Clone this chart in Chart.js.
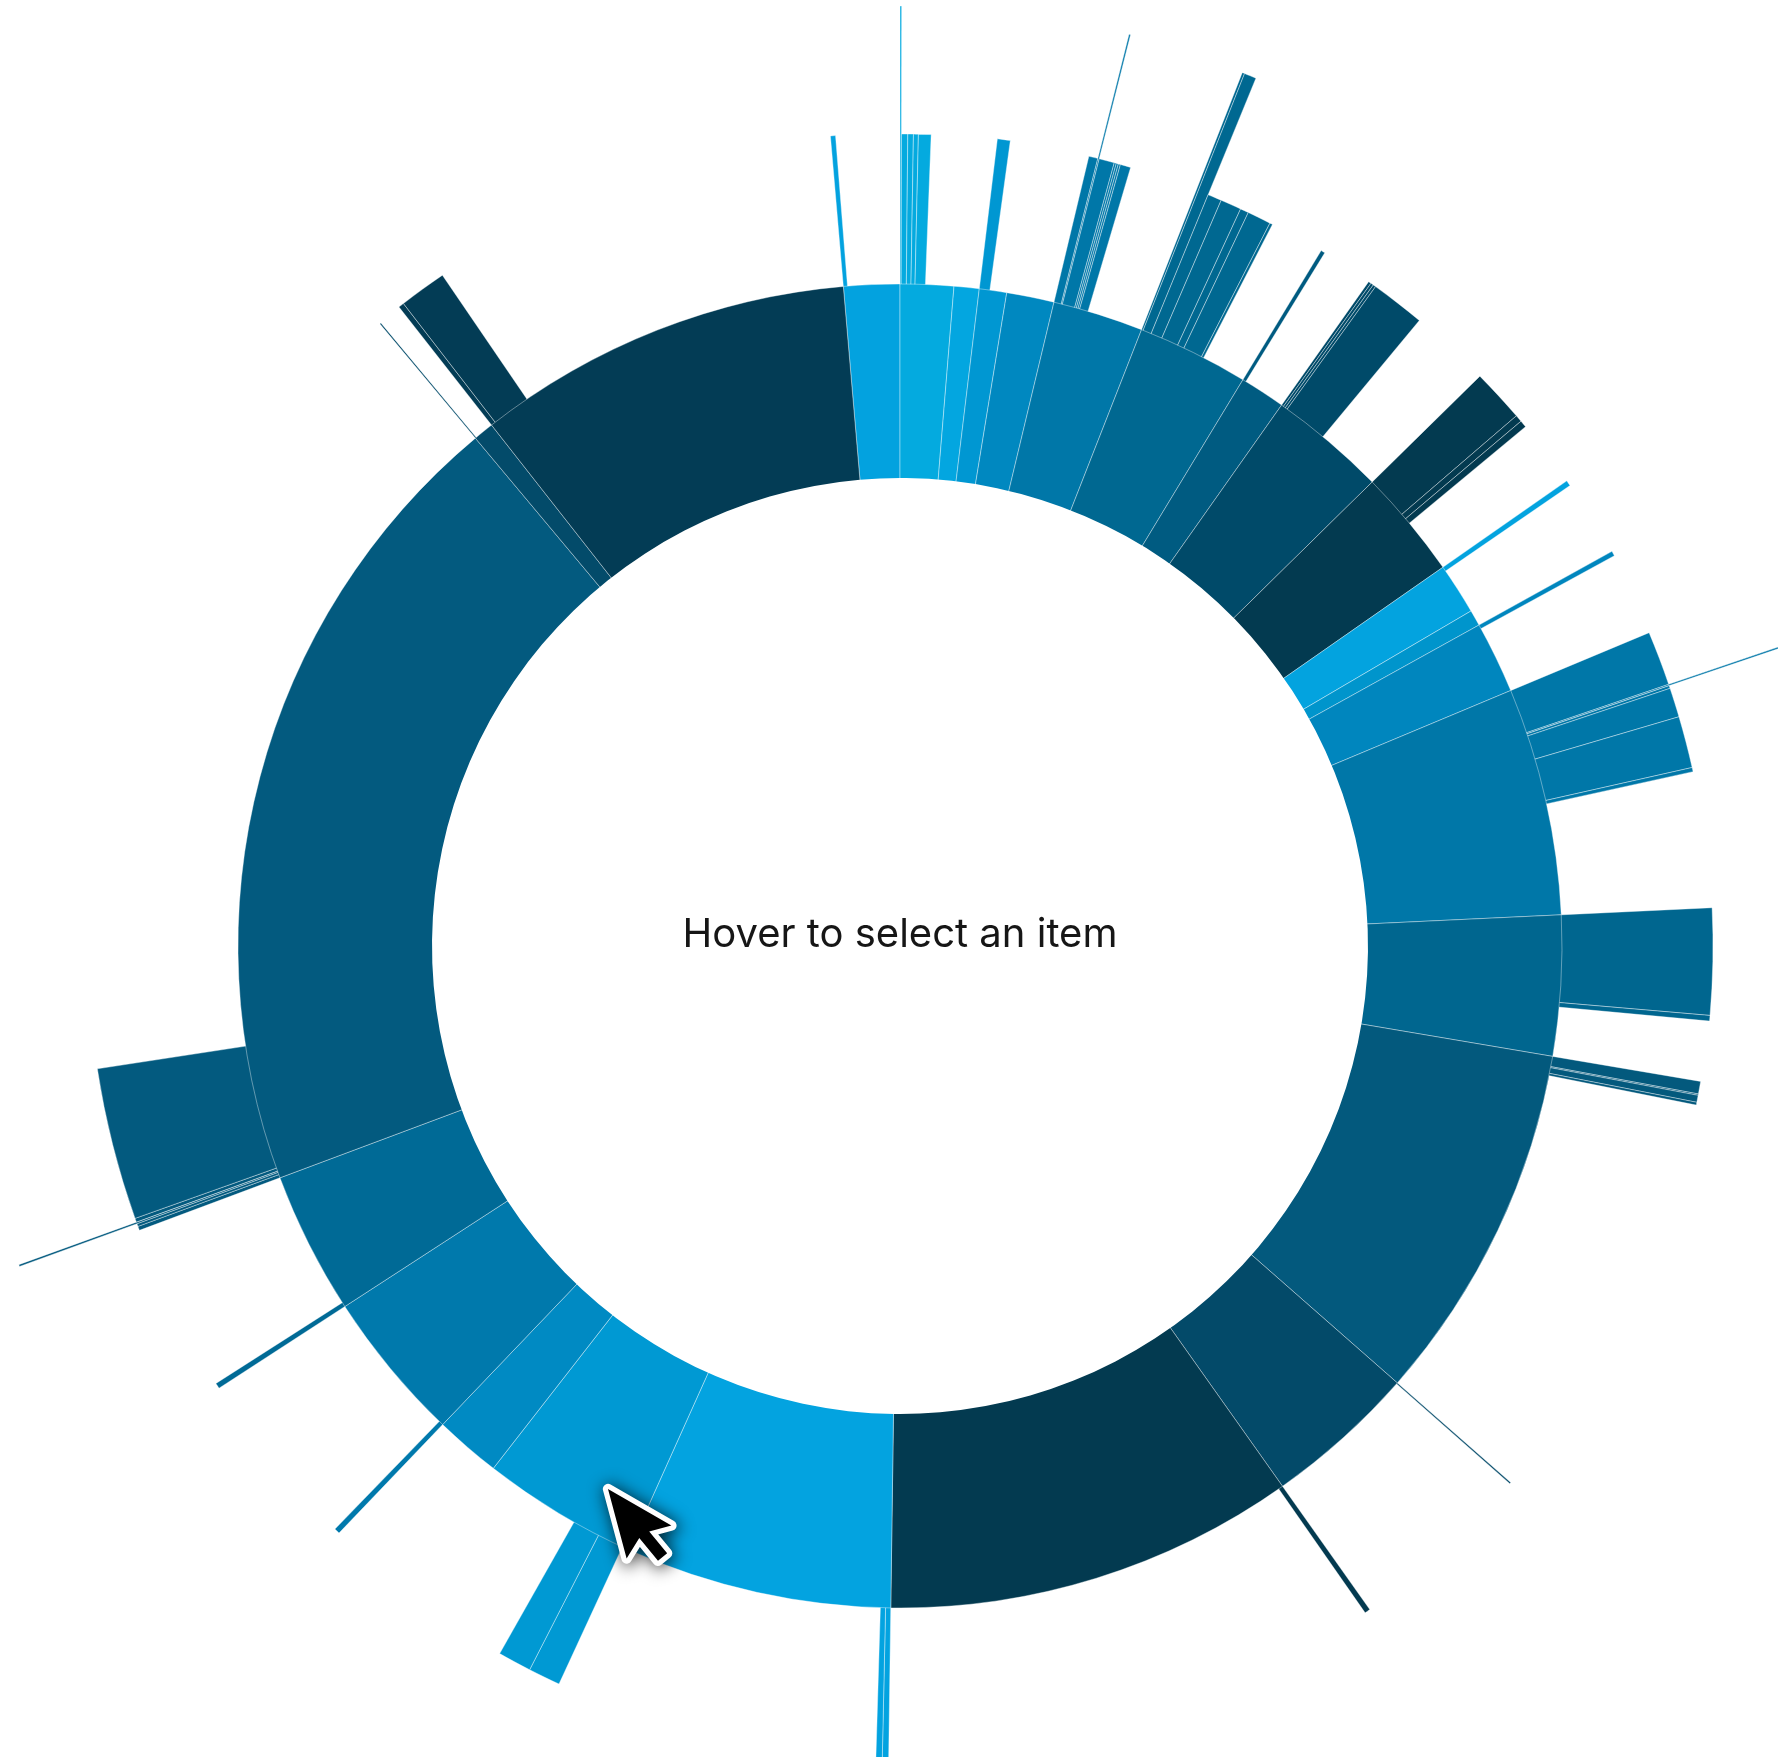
<!DOCTYPE html>
<html>
<head>
<meta charset="utf-8">
<script src="https://cdn.jsdelivr.net/npm/chart.js@4/dist/chart.umd.min.js"></script>
<style>
html,body{margin:0;padding:0;background:#fff;overflow:hidden;}
#wrap{position:relative;width:1778px;height:1757px;}
#chart{position:absolute;left:0;top:0;}
#centerLabel{position:absolute;left:400px;width:1000px;top:909px;text-align:center;font-family:Inter,"Noto Sans",sans-serif;font-size:40px;line-height:48px;color:#161616;white-space:nowrap;}
#cursor{position:absolute;left:0;top:0;pointer-events:none;}
</style>
</head>
<body>
<div id="wrap">
<canvas id="chart" width="1778" height="1757"></canvas>
<div id="centerLabel">Hover to select an item</div>
<svg id="cursor" width="1778" height="1757">
  <defs><filter id="sh" x="-50%" y="-50%" width="200%" height="200%"><feGaussianBlur stdDeviation="1.8"/></filter></defs>
  <g transform="translate(608,1489) rotate(-15) scale(4.5)">
    <path d="M0,0 L0,16 L3.9,12.3 L6.6,18.3 L9.0,17.2 L6.4,11.5 L11.5,11.5 Z" fill="rgba(0,0,0,0.6)" stroke="rgba(0,0,0,0.6)" stroke-width="3" stroke-linejoin="round" filter="url(#sh)" transform="translate(0.3,0.5)"/>
    <path d="M0,0 L0,16 L3.9,12.3 L6.6,18.3 L9.0,17.2 L6.4,11.5 L11.5,11.5 Z" fill="#000" stroke="#fff" stroke-width="2.3" stroke-linejoin="round" paint-order="stroke"/>
  </g>
</svg>
</div>
<script>
// ---------- data ----------
const startAngle = -4.91;          // degrees clockwise from 12 o'clock where the first item begins
const holeReach = 468;             // radial value of the inner hole
const ringReach = 662;             // radial value of the main ring
const scaleMax = 811;              // radial scale maximum

const ringItems = ['A','B','C','D','E','F','G','H','I','J','K','L','M','N','O','P','Q','R','S','T','U','V','W','X','Y','Z'];
const ringSpan  = [4.91,4.68,2.20,2.40,4.17,7.95,9.80,4.00,10.30,9.60,4.50,1.40,6.30,20.00,12.30,31.70,13.40,36.10,23.40,13.70,5.80,13.30,12.50,70.60,1.80,33.19];

const spikeParent = [0, 1,1,1,1,1, 3, 5,5,5,5,5,5,5, 6,6,6,6,6,6,6, 7, 8,8,8,8, 9,9,9, 10, 12, 13,13,13,13,13,13, 14,14, 15,15,15,15, 16, 17, 18,18, 19,19, 21, 22, 23,23,23,23,23, 24, 25,25];
const spikeStart  = [-4.91, 0.00,0.10,0.55,0.95,1.30, 6.88, 13.45,14.10,14.20,15.30,15.45,15.60,15.75, 21.40,21.55,22.30,23.30,24.80,25.40,27.10, 31.20, 35.20,35.40,35.60,35.80, 45.50,49.30,49.80, 55.10, 61.00, 67.30,71.20,71.30,71.50,73.60,77.30, 87.30,94.90, 99.60,100.50,100.60,101.10, 131.30, 144.70, 180.80,181.25, 204.80,207.10, 223.70, 237.00, 249.50,249.80,250.00,250.12,250.40, 320.10, 321.90,322.30];
const spikeSpan   = [0.36, 0.10,0.45,0.40,0.35,0.90, 0.92, 0.65,0.10,1.10,0.15,0.15,0.15,0.75, 0.15,0.75,1.00,1.50,0.60,1.70,0.20, 0.30, 0.20,0.20,0.20,3.90, 3.80,0.50,0.50, 0.40, 0.35, 3.90,0.10,0.20,2.10,3.70,0.30, 7.60,0.40, 0.90,0.10,0.50,0.20, 0.10, 0.40, 0.45,0.45, 2.30,2.40, 0.40, 0.40, 0.30,0.20,0.12,0.28,10.90, 0.10, 0.40,3.40];
const spikeReach  = [813, 940,812,812,812,812, 813, 812,940,812,812,812,812,812, 938,938,812,812,812,812,812, 813, 813,813,813,813, 813,813,813, 813, 814, 812,960,812,812,812,812, 813,813, 812,812,812,812, 813, 813, 813,813, 813,813, 812, 812, 812,812,937,812,812, 811, 812,812];

// ---------- styles ----------
const palette = ['#03a2df','#04aadf','#03a6e0','#0097d2','#0088c0','#0077a8','#006891','#005b81','#004a69','#033a50',
                 '#03a3df','#0095cc','#0086be','#0077a8','#00668f','#03597d','#034a69','#033a50',
                 '#03a3e0','#0099d3','#008ac3','#0079ac','#006a96','#035a7f','#034b6a','#033c55'];
const sepColor = 'rgba(255,255,255,0.38)';

// ---------- build spike sequence (gaps are transparent) ----------
const spikeValues = [], spikeAngles = [], spikeColors = [], spikeBorders = [];
let cur = startAngle;
for (let i = 0; i < spikeStart.length; i++) {
  const gap = spikeStart[i] - cur;
  if (gap > 0.0005) {
    spikeValues.push(0); spikeAngles.push(gap); spikeColors.push('rgba(0,0,0,0)'); spikeBorders.push(0);
  }
  spikeValues.push(spikeReach[i]); spikeAngles.push(spikeSpan[i]);
  spikeColors.push(palette[spikeParent[i]]); spikeBorders.push(1);
  cur = spikeStart[i] + spikeSpan[i];
}

new Chart(document.getElementById('chart'), {
  type: 'polarArea',
  data: {
    datasets: [
      { label: 'hole', data: [holeReach], angle: () => 360, backgroundColor: '#ffffff', borderWidth: 0, clip: false },
      { label: 'ring', data: ringSpan.map(() => ringReach), angle: (c) => ringSpan[c.dataIndex],
        backgroundColor: palette, borderColor: sepColor, borderWidth: 1, clip: false },
      { label: 'spikes', data: spikeValues, angle: (c) => spikeAngles[c.dataIndex],
        backgroundColor: spikeColors, borderColor: sepColor, borderWidth: spikeBorders, clip: false }
    ]
  },
  options: {
    responsive: false,
    animation: false,
    events: [],
    layout: { padding: { left: 22, top: 135, right: 0, bottom: 0 } },
    plugins: { legend: { display: false }, tooltip: { enabled: false } },
    scales: {
      r: {
        min: 0, max: scaleMax, startAngle: startAngle,
        ticks: { display: false },
        grid: { display: false },
        angleLines: { display: false },
        pointLabels: { display: false }
      }
    }
  }
});
</script>
</body>
</html>
